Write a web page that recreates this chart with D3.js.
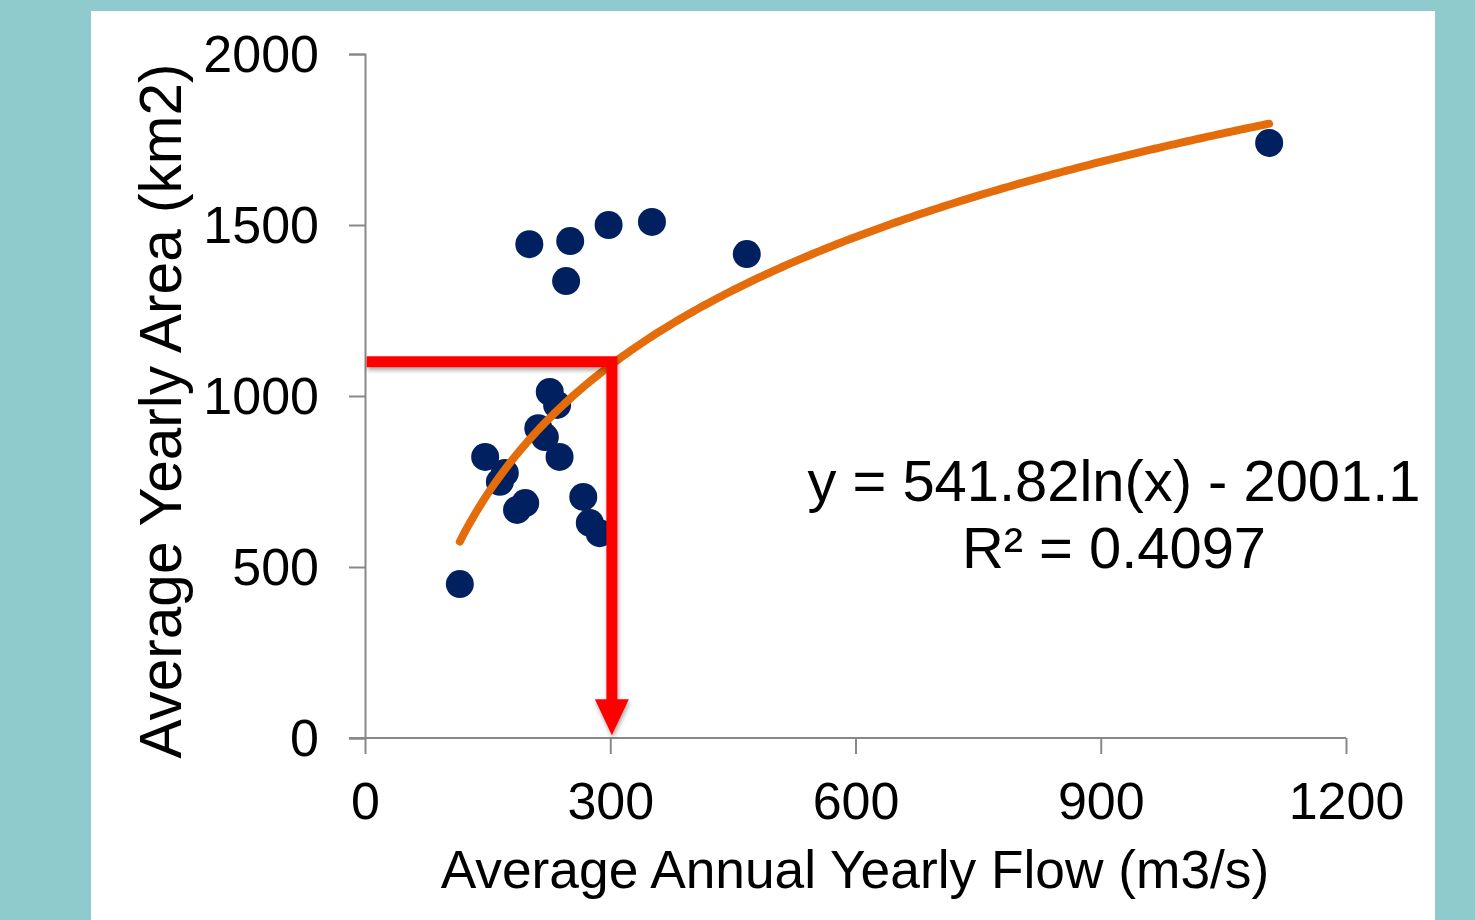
<!DOCTYPE html>
<html>
<head>
<meta charset="utf-8">
<script src="https://cdn.jsdelivr.net/npm/d3@7"></script>
<style>
    body { margin: 0; background: #8fcbcc; }
    svg { display: block; }
    text { font-family: "Liberation Sans", Arial, sans-serif; fill: #000; }
</style>
</head>
<body>
<svg width="1475" height="920"></svg>
<script>
const flow = [116, 147, 171, 165, 196, 186, 212, 220, 226, 235, 238, 267, 275, 287, 201, 251, 298, 351, 246, 467, 1106];
const area = [450, 822, 775, 749, 687, 667, 906, 880, 1012, 974, 822, 705, 629, 599, 1444, 1453, 1500, 1509, 1336, 1415, 1740];
const xTicks = [0, 300, 600, 900, 1200];
const yTicks = [0, 500, 1000, 1500, 2000];
const fitA = 541.82, fitB = -2001.1;
const guideFlow = 302, guideArea = 1100, guideStart = 2, guideTip = 8;
const equation = ['y = 541.82ln(x) - 2001.1', 'R² = 0.4097'];

const svg = d3.select('svg');

svg.append('rect')
    .attr('x', 91).attr('y', 11)
    .attr('width', 1344).attr('height', 920)
    .attr('fill', '#fff');

const defs = svg.append('defs');
const shadow = defs.append('filter')
    .attr('id', 'shadow')
    .attr('x', '-50%').attr('y', '-50%')
    .attr('width', '200%').attr('height', '200%');
shadow.append('feDropShadow')
    .attr('dx', 1).attr('dy', 3)
    .attr('stdDeviation', 2)
    .attr('flood-color', '#000')
    .attr('flood-opacity', 0.35);

const x = d3.scaleLinear().domain([0, 1200]).range([365, 1346]);
const y = d3.scaleLinear().domain([0, 2000]).range([738, 54]);

const xAxis = svg.append('g')
    .attr('transform', 'translate(0,' + y(0) + ')')
    .call(d3.axisBottom(x).tickValues(xTicks).tickFormat(d3.format('d')).tickSize(16).tickPadding(28));
const yAxis = svg.append('g')
    .attr('transform', 'translate(' + x(0) + ',0)')
    .call(d3.axisLeft(y).tickValues(yTicks).tickFormat(d3.format('d')).tickSize(16).tickPadding(30));

[xAxis, yAxis].forEach(a => {
    a.select('.domain').attr('stroke', '#888').attr('stroke-width', 2);
    a.selectAll('.tick line').attr('stroke', '#888').attr('stroke-width', 2);
    a.selectAll('.tick text')
        .attr('font-size', 52)
        .attr('font-family', '"Liberation Sans", Arial, sans-serif')
        .attr('fill', '#000');
});
xAxis.select('.domain').attr('d', 'M' + (x(0) - 16) + ',0H' + x(1200));
xAxis.selectAll('.tick text').attr('dy', '0.71em');
yAxis.selectAll('.tick text').attr('dy', '0.34em');

svg.append('text')
    .attr('x', 855).attr('y', 888)
    .attr('text-anchor', 'middle')
    .attr('font-size', 53.3)
    .text('Average Annual Yearly Flow (m3/s)');

svg.append('text')
    .attr('transform', 'translate(181,411) rotate(-90)')
    .attr('text-anchor', 'middle')
    .attr('font-size', 58.5)
    .text('Average Yearly Area (km2)');

const points = flow.map((f, i) => ({ f: f, a: area[i] }));

svg.append('g')
    .selectAll('circle')
    .data(points)
    .enter()
    .append('circle')
    .attr('cx', d => x(d.f))
    .attr('cy', d => y(d.a))
    .attr('r', 14)
    .attr('fill', '#002060');

const fitX = d3.range(d3.min(flow), d3.max(flow) + 1, 5);
const line = d3.line()
    .x(d => x(d))
    .y(d => y(fitA * Math.log(d) + fitB));

svg.append('path')
    .datum(fitX)
    .attr('d', line)
    .attr('fill', 'none')
    .attr('stroke', '#e46c0a')
    .attr('stroke-width', 8)
    .attr('stroke-linecap', 'round');

const guide = svg.append('g').attr('filter', 'url(#shadow)');

guide.append('path')
    .attr('d', 'M' + x(guideStart) + ',' + y(guideArea) + 'H' + x(guideFlow) + 'V' + (y(guideTip) - 32))
    .attr('fill', 'none')
    .attr('stroke', '#ff0000')
    .attr('stroke-width', 11);

guide.append('path')
    .attr('d', 'M' + (x(guideFlow) - 17) + ',' + (y(guideTip) - 36) +
        'L' + (x(guideFlow) + 17) + ',' + (y(guideTip) - 36) +
        'L' + x(guideFlow) + ',' + y(guideTip) + 'Z')
    .attr('fill', '#ff0000');

svg.append('g')
    .selectAll('text')
    .data(equation)
    .enter()
    .append('text')
    .attr('x', 1114)
    .attr('y', (d, i) => 501 + i * 67)
    .attr('text-anchor', 'middle')
    .attr('font-size', 57.9)
    .text(d => d);
</script>
</body>
</html>
